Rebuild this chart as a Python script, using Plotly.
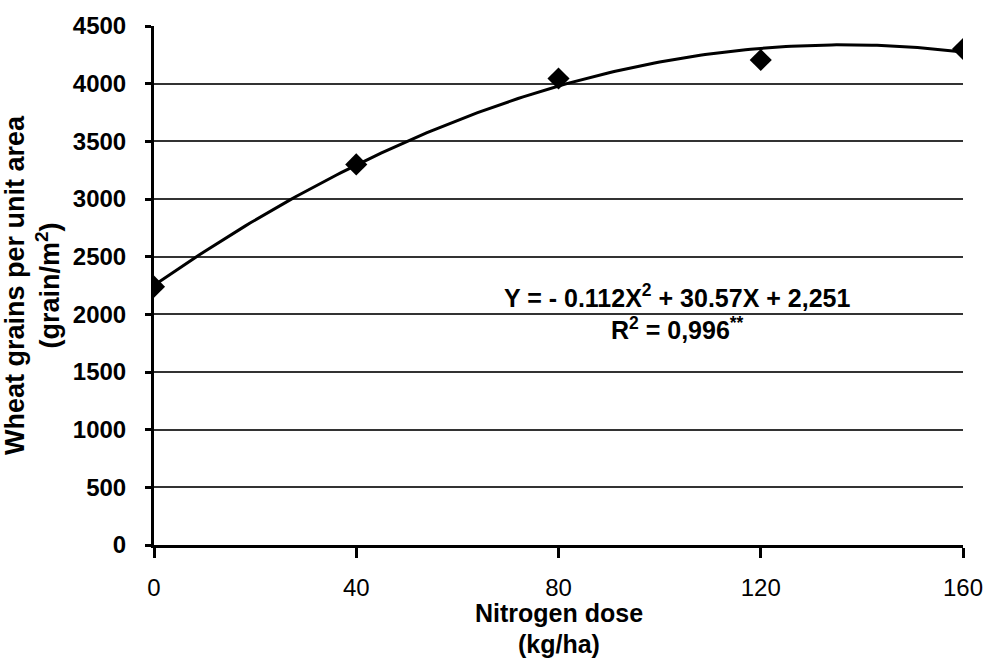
import numpy as np
import plotly.graph_objects as go

# Data
nitrogen_dose = [0, 40, 80, 120, 160]
grains = [2240, 3300, 4045, 4205, 4300]
# Quadratic fit coefficients shown on the chart: Y = a X^2 + b X + c
coef_a, coef_b, coef_c = -0.112, 30.57, 2251
x_ticks = [0, 40, 80, 120, 160]
y_ticks = [0, 500, 1000, 1500, 2000, 2500, 3000, 3500, 4000, 4500]

FONT = "Liberation Sans, Arial, sans-serif"

xs = np.linspace(min(nitrogen_dose), max(nitrogen_dose), 161)
ys = coef_a * xs**2 + coef_b * xs + coef_c

fig = go.Figure()
fig.add_trace(go.Scatter(x=xs, y=ys, mode="lines",
                         line=dict(color="black", width=3), showlegend=False,
                         hoverinfo="skip"))
fig.add_trace(go.Scatter(x=nitrogen_dose, y=grains, mode="markers",
                         marker=dict(symbol="diamond", size=17, color="black"),
                         showlegend=False))

fig.add_annotation(
    x=103.5, y=2020, xref="x", yref="y", showarrow=False,
    text="Y = - 0.112X<sup>2</sup> + 30.57X + 2,251<br>R<sup>2</sup> = 0,996<sup>**</sup>",
    font=dict(family=FONT, size=25, color="black", weight="bold"),
    align="center",
)
# x-axis title (two lines)
fig.add_annotation(
    x=0.5, y=-0.131, xref="paper", yref="paper", showarrow=False,
    text="Nitrogen dose", yanchor="middle",
    font=dict(family=FONT, size=25, color="black", weight="bold"),
)
fig.add_annotation(
    x=0.5, y=-0.19, xref="paper", yref="paper", showarrow=False,
    text="(kg/ha)", yanchor="middle",
    font=dict(family=FONT, size=25, color="black", weight="bold"),
)

fig.update_layout(
    width=988, height=659,
    margin=dict(l=154, r=25, t=26, b=114, autoexpand=False),
    plot_bgcolor="white", paper_bgcolor="white",
    font=dict(family=FONT, color="black"),
)
fig.update_xaxes(
    range=[0, 160], tickvals=x_ticks, ticktext=[str(v) for v in x_ticks],
    showgrid=False, zeroline=False, automargin=False,
    showline=True, linecolor="black", linewidth=3,
    ticks="outside", ticklen=10, tickwidth=3, tickcolor="black",
    tickfont=dict(family=FONT, size=24, color="black"),
    ticklabelstandoff=9,
)
fig.update_yaxes(
    range=[0, 4500], tickvals=y_ticks, ticktext=[str(v) for v in y_ticks],
    showgrid=True, gridcolor="#333333", gridwidth=1.5,
    zeroline=False, automargin=False,
    showline=True, linecolor="black", linewidth=3,
    ticks="outside", ticklen=6, tickwidth=3, tickcolor="black",
    tickfont=dict(family=FONT, size=24, weight="bold"),
    ticklabelstandoff=14,
    title=dict(text="Wheat grains per unit area<br>(grain/m<sup>2</sup>)",
               font=dict(family=FONT, size=27, weight="bold"), standoff=13),
)

fig.write_html(
    "out.html",
    config={"displayModeBar": False},
    post_script="document.body.style.margin='0';document.body.style.overflow='hidden';",
)
